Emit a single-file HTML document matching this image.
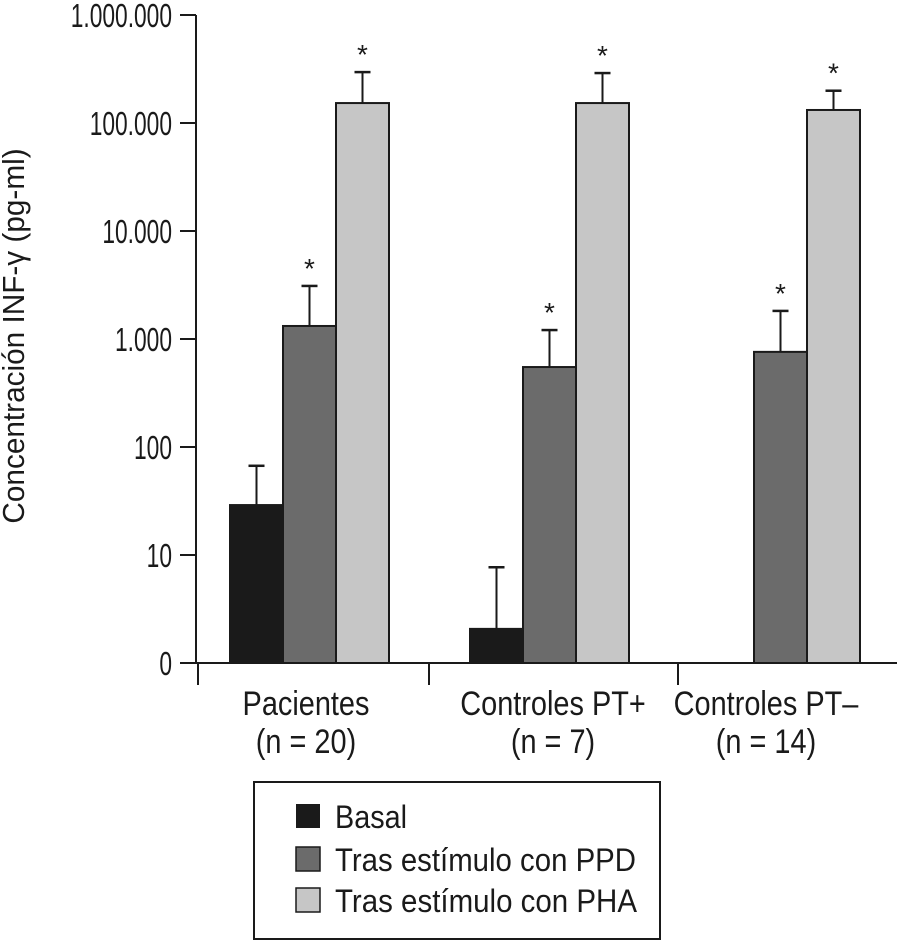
<!DOCTYPE html>
<html><head><meta charset="utf-8"><style>
body{margin:0;background:#fff;width:897px;height:941px;overflow:hidden}
svg text{font-family:"Liberation Sans",sans-serif;fill:#1a1a1a}
</style></head><body>
<svg id="chart" width="897" height="941" xmlns="http://www.w3.org/2000/svg">
<g id="axes"></g><g id="bars"></g>
<g>
<rect x="254" y="782" width="406" height="157" fill="none" stroke="#1a1a1a" stroke-width="2"/>
<rect x="296" y="804" width="24" height="24" fill="#1a1a1a"/>
<text x="335" y="828" font-size="32" textLength="72" lengthAdjust="spacingAndGlyphs">Basal</text>
<rect x="296" y="847" width="24" height="24" fill="#6b6b6b" stroke="#1a1a1a" stroke-width="1.5"/>
<text x="335" y="871" font-size="32" textLength="301" lengthAdjust="spacingAndGlyphs">Tras estímulo con PPD</text>
<rect x="296" y="888" width="24" height="24" fill="#c6c6c6" stroke="#1a1a1a" stroke-width="1.5"/>
<text x="335" y="912" font-size="32" textLength="302" lengthAdjust="spacingAndGlyphs">Tras estímulo con PHA</text>
</g>
</svg>
<script>
const categories=["Pacientes","Controles PT+","Controles PT\u2013"];
const sublabels=["(n = 20)","(n = 7)","(n = 14)"];
const basal=[29,2.07,null];
const basalErr=[67,7.7,null];
const ppd=[1320,550,760];
const ppdErr=[3100,1210,1820];
const pha=[153000,153000,132000];
const phaErr=[296000,290000,199000];
const tickLabels=["0","10","100","1.000","10.000","100.000","1.000.000"];
const tickValues=[1,10,100,1000,10000,100000,1000000];

const NS="http://www.w3.org/2000/svg";
const y0=663,dec=108;
function y(v){return y0-Math.log10(Math.max(v,1))*dec;}
const groupStart=[230,470,701];
const bw=53;
function x(ci,si){return groupStart[ci]+si*bw;}
function mk(tag,attrs,parent){const e=document.createElementNS(NS,tag);for(const k in attrs)e.setAttribute(k,attrs[k]);parent.appendChild(e);return e;}
const axes=document.getElementById('axes'),bars=document.getElementById('bars');
let e=mk('line',{x1:196,y1:15,x2:196,y2:663,stroke:'#1a1a1a','stroke-width':2},axes);


e=mk('line',{x1:180,y1:663,x2:897,y2:663,stroke:'#1a1a1a','stroke-width':2},axes);


tickValues.forEach((v,i)=>{
 const yy=y(v);
 let t=mk('line',{x1:180,y1:yy,x2:196,y2:yy,stroke:'#1a1a1a','stroke-width':2},axes);
 
 
 let l=mk('text',{x:0,y:0,'font-size':33,'text-anchor':'end',transform:`translate(172,${yy+12}) scale(0.69,1)`},axes);
 l.textContent=tickLabels[i];
 
 
});
[198,429,678].forEach(xx=>{
 let t=mk('line',{x1:xx,y1:663,x2:xx,y2:685,stroke:'#1a1a1a','stroke-width':2},axes);
 
 
});
const centers=[306,553,766];
categories.forEach((c,i)=>{
 let l=mk('text',{x:0,y:0,'font-size':34,'text-anchor':'middle',transform:`translate(${centers[i]},715) scale(0.85,1)`},axes);
 l.textContent=c;
 
 
 let s=mk('text',{x:0,y:0,'font-size':34,'text-anchor':'middle',transform:`translate(${centers[i]},753) scale(0.85,1)`},axes);
 s.textContent=sublabels[i];
 
 
});
let yt=mk('text',{x:0,y:0,'font-size':31,'text-anchor':'middle',transform:'translate(24,336) rotate(-90) scale(0.96,1)'},axes);
yt.textContent="Concentración INF-\u03b3 (pg-ml)";


const series=[[basal,basalErr,'#1a1a1a','basal',false],[ppd,ppdErr,'#6b6b6b','ppd',true],[pha,phaErr,'#c6c6c6','pha',true]];
series.forEach((s,si)=>{
 s[0].forEach((v,ci)=>{
  if(v==null)return;
  const xx=x(ci,si),top=y(v),et=y(s[1][ci]),cx=xx+bw/2;
  let el=mk('line',{x1:cx,y1:top,x2:cx,y2:et,stroke:'#1a1a1a','stroke-width':2},bars);
  
  
  el=mk('line',{x1:cx-8,y1:et,x2:cx+8,y2:et,stroke:'#1a1a1a','stroke-width':2.5},bars);
  
  
  el=mk('rect',{x:xx,y:top,width:bw,height:y0-top,fill:s[2],stroke:'#1a1a1a','stroke-width':2},bars);
  
  
  if(s[4]){
   el=mk('text',{x:cx,y:et-8,'font-size':28,'text-anchor':'middle'},bars);
   el.textContent='*';
   
   
  }
 });
});
</script>
</body></html>
